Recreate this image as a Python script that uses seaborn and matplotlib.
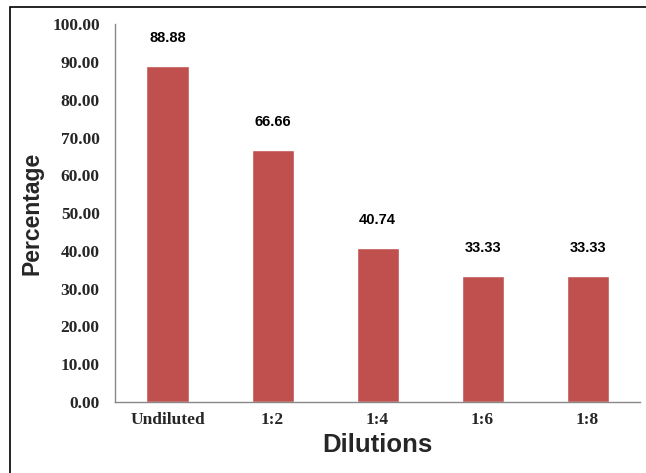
import matplotlib
matplotlib.use("Agg")
import matplotlib.pyplot as plt
import matplotlib.patches as patches
import seaborn as sns
import pandas as pd

# Data
dilutions = ["Undiluted", "1:2", "1:4", "1:6", "1:8"]
percentage = [88.88, 66.66, 40.74, 33.33, 33.33]

df = pd.DataFrame({"Dilutions": dilutions, "Percentage": percentage})

sns.set_style("white")

fig = plt.figure(figsize=(6.46, 4.73), dpi=100)
ax = fig.add_axes([0.178, 0.150, 0.813, 0.799])

sns.barplot(data=df, x="Dilutions", y="Percentage", color="#C0504D",
            saturation=1, width=0.4, ax=ax)

ax.set_ylim(0, 100)
ax.set_xlim(-0.5, len(dilutions) - 0.5)
ax.set_yticks(range(0, 101, 10))
ax.set_yticklabels([f"{v:.2f}" for v in range(0, 101, 10)],
                   fontfamily="Liberation Serif", fontweight="bold", fontsize=12.5)
ax.set_xticks(range(len(dilutions)))
ax.set_xticklabels(dilutions, fontfamily="Liberation Serif",
                   fontweight="bold", fontsize=12.5)
ax.set_xticks([i - 0.5 for i in range(len(dilutions) + 1)], minor=True)
ax.tick_params(axis="x", which="major", length=0, pad=7)
ax.tick_params(axis="x", which="minor", length=5, color="#888888", direction="out")
ax.tick_params(axis="y", length=5, color="#888888", direction="out", pad=6)

for side in ["top", "right"]:
    ax.spines[side].set_visible(False)
for side in ["left", "bottom"]:
    ax.spines[side].set_color("#888888")
    ax.spines[side].set_linewidth(1)

ax.set_xlabel("Dilutions", fontfamily="Liberation Sans", fontweight="bold",
              fontsize=18.5, labelpad=4)
ax.set_ylabel("Percentage", fontfamily="Liberation Sans", fontweight="bold",
              fontsize=16.5, labelpad=6)

for i, v in enumerate(percentage):
    ax.annotate(f"{v:.2f}", (i, v), xytext=(0, 15), textcoords="offset points",
                ha="center", va="bottom", fontfamily="Liberation Sans",
                fontweight="bold", fontsize=10.5, color="black")

# outer frame
fig.patches.append(patches.Rectangle((0.015, -0.01), 1.0, 0.995,
                                     transform=fig.transFigure, fill=False,
                                     edgecolor="black", linewidth=1.2))

fig.savefig("out.png", dpi=100)
